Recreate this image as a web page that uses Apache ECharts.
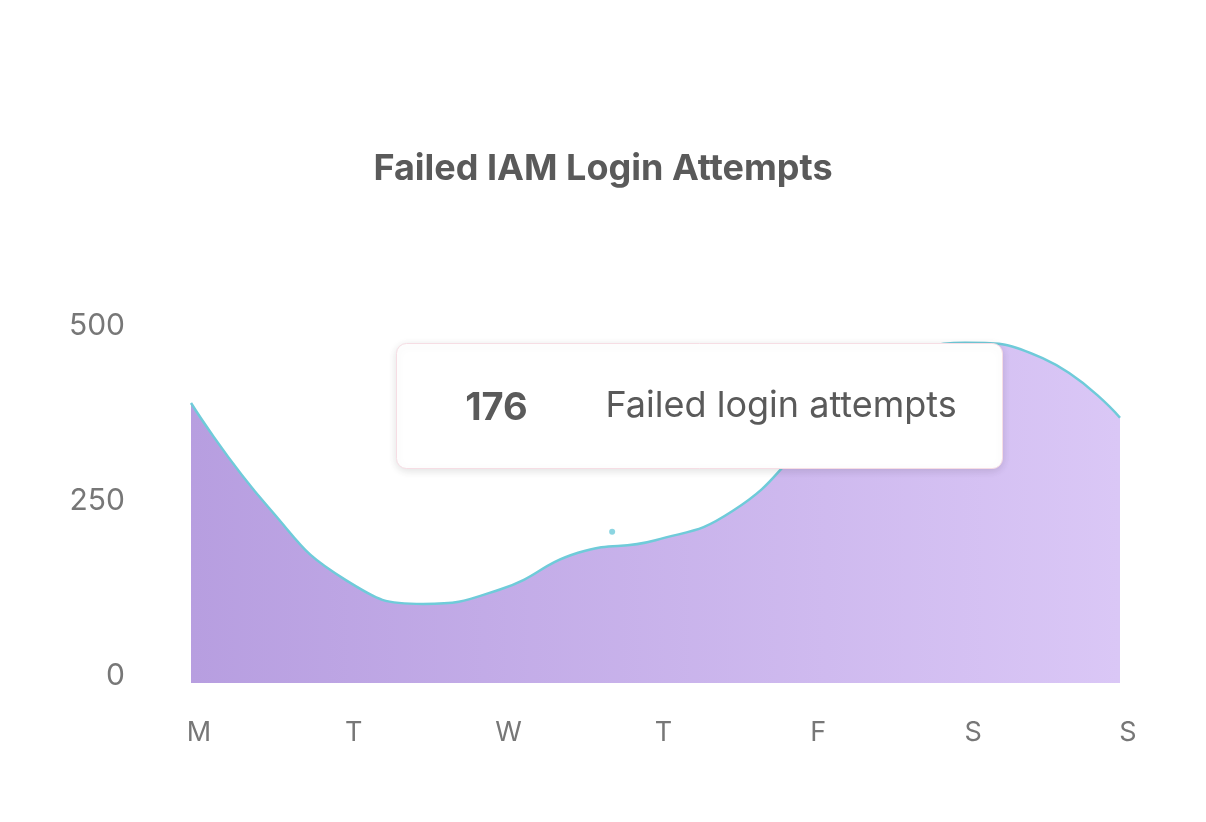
<!DOCTYPE html>
<html>
<head>
<meta charset="utf-8">
<script src="https://cdn.jsdelivr.net/npm/echarts@6/dist/echarts.min.js"></script>
<style>html,body{margin:0;padding:0;background:#fff}#c{width:1206px;height:822px}</style>
</head>
<body>
<div id="c"></div>
<script>
// x labels (one per day) and y ticks
const days = ['M', 'T', 'W', 'T', 'F', 'S', 'S'];
const yTicks = [0, 250, 500];
// curve readings, position in days from Monday
const dayPos = [0, 0.5, 1, 1.5, 2, 2.5, 3, 3.5, 4, 4.5, 5, 5.5, 6];
const attempts = [400, 251, 147, 113, 134, 186, 204, 246, 348, 447, 486, 464, 379];
// hover tooltip content and its marker
const tipValue = 176;
const tipLabel = 'Failed login attempts';
const hoverPos = [2.72];
const hoverVal = [216];

const lineData = dayPos.map((p, i) => [p, attempts[i]]);
const dotData = hoverPos.map((p, i) => [p, hoverVal[i]]);

const chart = echarts.init(document.getElementById('c'));
chart.setOption({
  animation: false,
  backgroundColor: '#ffffff',
  title: {
    text: 'Failed IAM Login Attempts',
    left: 'center',
    top: 146,
    textStyle: { fontFamily: 'Inter', fontWeight: 'bold', fontSize: 36, color: '#5a5a5a' }
  },
  grid: { left: 191, right: 86, top: 333, bottom: 139 },
  xAxis: {
    type: 'value',
    min: 0,
    max: days.length - 1,
    interval: 1,
    splitLine: { show: false },
    axisLine: { show: false },
    axisTick: { show: false },
    axisLabel: {
      margin: 36, padding: [0, 0, 0, 16], fontFamily: 'Inter', fontSize: 27, color: '#777777',
      formatter: v => days[Math.round(v)] || ''
    }
  },
  yAxis: {
    type: 'value',
    min: yTicks[0],
    max: yTicks[yTicks.length - 1],
    interval: yTicks[1] - yTicks[0],
    splitLine: { show: false },
    axisLine: { show: false },
    axisTick: { show: false },
    axisLabel: { margin: 66, verticalAlign: 'bottom', lineHeight: 14, fontFamily: 'Inter', fontSize: 30, color: '#777777' }
  },
  series: [{
    type: 'line',
    data: lineData,
    smooth: 0.5,
    symbol: 'none',
    lineStyle: { color: '#6fcbd9', width: 2.5 },
    areaStyle: {
      opacity: 1,
      color: new echarts.graphic.LinearGradient(0, 0, 1, 0, [
        { offset: 0, color: '#b79ee0' },
        { offset: 1, color: '#dac7f6' }
      ])
    }
  }, {
    type: 'scatter',
    data: dotData,
    symbolSize: 6,
    itemStyle: { color: '#6fcbd9' },
    silent: true
  }],
  graphic: [{
    type: 'group',
    left: 396,
    top: 343,
    z: 100,
    children: [{
      type: 'rect',
      z: 100,
      shape: { x: 0, y: 0, width: 606, height: 125, r: 10 },
      style: { fill: '#ffffff', stroke: '#f6dde4', lineWidth: 1, shadowBlur: 8, shadowColor: 'rgba(0,0,0,0.12)', shadowOffsetY: 2 }
    }, {
      type: 'text',
      z: 101,
      x: 100, y: 65,
      style: { text: String(tipValue), fontFamily: 'Inter', fontWeight: 'bold', fontSize: 38, fill: '#5a5a5a', align: 'center', verticalAlign: 'middle' }
    }, {
      type: 'text',
      z: 101,
      x: 209, y: 63,
      style: { text: tipLabel, fontFamily: 'Inter', fontSize: 36, fill: '#5a5a5a', align: 'left', verticalAlign: 'middle' }
    }]
  }]
});
</script>
</body>
</html>
